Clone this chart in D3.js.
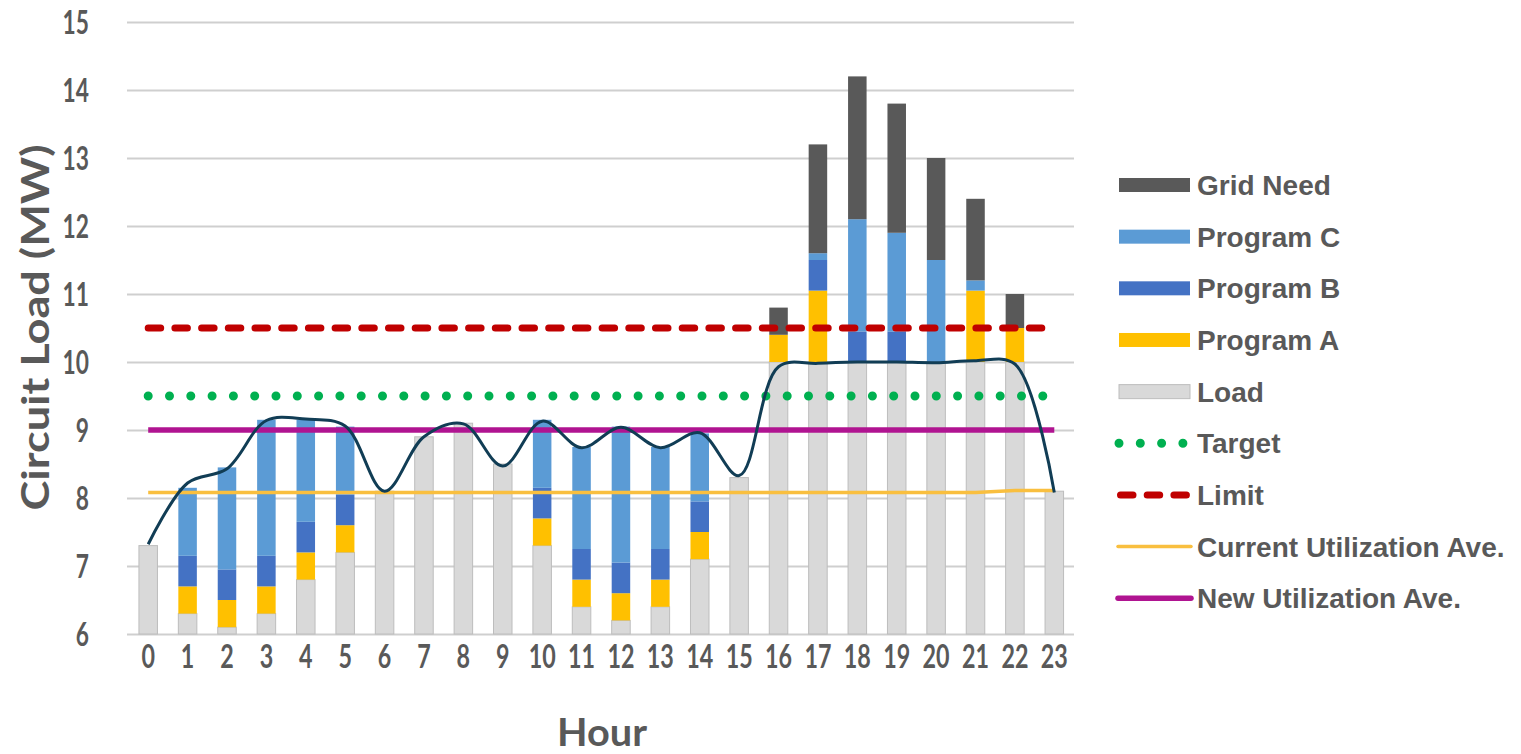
<!DOCTYPE html>
<html>
<head>
<meta charset="utf-8">
<script src="https://cdn.jsdelivr.net/npm/d3@7"></script>
<style>
  body { margin: 0; background: #ffffff; }
  .tick text { fill: #595959; font-family: Lato, "Liberation Sans", sans-serif; font-weight: 700; }
  .legend text { fill: #595959; font-family: "Liberation Sans", Arial, sans-serif; font-weight: 700; font-size: 28px; }
  .axis_title { fill: #595959; font-family: Lato, "Liberation Sans", sans-serif; font-weight: 700; font-size: 38px; }
</style>
</head>
<body>
<div id="chart"></div>
<script>
// hours on the x axis and y tick values
var hours = [0, 1, 2, 3, 4, 5, 6, 7, 8, 9, 10, 11, 12, 13, 14, 15, 16, 17, 18, 19, 20, 21, 22, 23];
var yTicks = [6, 7, 8, 9, 10, 11, 12, 13, 14, 15];

// stacked bar segments (MW)
var load      = [7.3, 6.3, 6.1, 6.3, 6.8, 7.2, 8.1, 8.9, 9.1, 8.5, 7.3, 6.4, 6.2, 6.4, 7.1, 8.3, 10, 10, 10, 10, 10, 10, 10, 8.1];
var programA  = [0, 0.4, 0.4, 0.4, 0.4, 0.4, 0, 0, 0, 0, 0.4, 0.4, 0.4, 0.4, 0.4, 0, 0.4, 1.05, 0, 0, 0, 1.05, 0.5, 0];
var programB  = [0, 0.45, 0.45, 0.45, 0.45, 0.45, 0, 0, 0, 0, 0.45, 0.45, 0.45, 0.45, 0.45, 0, 0, 0.45, 0.45, 0.45, 0, 0, 0, 0];
var programC  = [0, 1.0, 1.5, 2.0, 1.5, 1.0, 0, 0, 0, 0, 1.0, 1.5, 2.0, 1.5, 1.0, 0, 0, 0.1, 1.65, 1.45, 1.5, 0.15, 0, 0];
var gridNeed  = [0, 0, 0, 0, 0, 0, 0, 0, 0, 0, 0, 0, 0, 0, 0, 0, 0.4, 1.6, 2.1, 1.9, 1.5, 1.2, 0.5, 0];

// smoothed resulting load curve
var newLoad = [7.32, 8.22, 8.43, 9.14, 9.16, 9.06, 8.1, 8.9, 9.09, 8.47, 9.13, 8.74, 9.04, 8.74, 8.96, 8.33, 9.93, 9.98, 10.0, 10.0, 9.99, 10.02, 9.97, 8.08];

// reference levels
var currentAve = [8.08, 8.08, 8.08, 8.08, 8.08, 8.08, 8.08, 8.08, 8.08, 8.08, 8.08, 8.08, 8.08, 8.08, 8.08, 8.08, 8.08, 8.08, 8.08, 8.08, 8.08, 8.08, 8.11, 8.11];
var targetLevel = 9.5;
var limitLevel = 10.5;
var newAveLevel = 9.0;

var stackKeys = ["Load", "Program A", "Program B", "Program C", "Grid Need"];
var stackColors = {"Load": "#d9d9d9", "Program A": "#ffc000", "Program B": "#4472c4", "Program C": "#5b9bd5", "Grid Need": "#595959"};

var width = 1521;
var height = 754;

var svgContainer = d3.select("#chart")
                     .append("svg")
                     .attr("width", width)
                     .attr("height", height)
                     .style("display", "block");

var xScale = d3.scaleBand()
               .domain(hours)
               .range([128.5, 1074])
               .paddingInner(0.53)
               .paddingOuter(0.265);

var yScale = d3.scaleLinear()
               .domain([6, 15])
               .range([634, 22])
               .clamp(true);

function xc(h) { return xScale(h) + xScale.bandwidth() / 2; }

// squeeze tick labels to the narrow look of the original
function squeeze(sel, perChar) {
  sel.selectAll(".tick text").each(function(d) {
    d3.select(this)
      .attr("textLength", String(d).length * perChar)
      .attr("lengthAdjust", "spacingAndGlyphs");
  });
}

// gridlines
var grid = svgContainer.append("g")
                       .attr("transform", "translate(127,0)")
                       .call(d3.axisLeft(yScale).tickValues(yTicks).tickSize(-947).tickFormat(""));
grid.select(".domain").remove();
grid.selectAll("line").attr("stroke", "#cfcfcf").attr("stroke-width", 2);

// y axis labels
var yAxis = svgContainer.append("g")
                        .attr("transform", "translate(128.5,0)")
                        .call(d3.axisLeft(yScale).tickValues(yTicks).tickSize(0).tickPadding(39.5));
yAxis.select(".domain").remove();
yAxis.selectAll("text").style("font-size", "32px").attr("dy", "0.36em");
squeeze(yAxis, 13.2);

// x axis labels
var xAxis = svgContainer.append("g")
                        .attr("transform", "translate(0,634)")
                        .call(d3.axisBottom(xScale).tickSize(0).tickPadding(11));
xAxis.select(".domain").remove();
xAxis.selectAll("text").style("font-size", "32px");
squeeze(xAxis, 13.5);

// stacked bars
var rows = hours.map(function(h, i) {
  return {hour: h, "Load": load[i], "Program A": programA[i], "Program B": programB[i],
          "Program C": programC[i], "Grid Need": gridNeed[i]};
});
var stacked = d3.stack().keys(stackKeys)(rows);

var barGroups = svgContainer.append("g")
                            .selectAll("g")
                            .data(stacked)
                            .enter()
                            .append("g")
                            .attr("fill", function(d) { return stackColors[d.key]; });

barGroups.selectAll("rect")
         .data(function(d) { return d.map(function(p) { p.key = d.key; return p; }); })
         .enter()
         .filter(function(d) { return d[1] - d[0] > 0; })
         .append("rect")
         .attr("x", function(d) { return xScale(d.data.hour); })
         .attr("width", xScale.bandwidth())
         .attr("y", function(d) { return yScale(d[1]); })
         .attr("height", function(d) { return yScale(d[0]) - yScale(d[1]); })
         .attr("stroke", function(d) { return d.key === "Load" ? "#bdbdbd" : "none"; })
         .attr("stroke-width", 1);

// level lines
function levelLine(level) {
  return d3.line().x(function(h) { return xc(h); }).y(function() { return yScale(level); })(hours);
}

svgContainer.append("path")
            .attr("d", levelLine(targetLevel))
            .attr("fill", "none")
            .attr("stroke", "#00b050")
            .attr("stroke-width", 9)
            .attr("stroke-linecap", "round")
            .attr("stroke-dasharray", "0 21.3");

svgContainer.append("path")
            .attr("d", levelLine(limitLevel))
            .attr("fill", "none")
            .attr("stroke", "#c00000")
            .attr("stroke-width", 7)
            .attr("stroke-linecap", "round")
            .attr("stroke-dasharray", "12.5 14.2");

svgContainer.append("path")
            .attr("d", d3.line().x(function(d, i) { return xc(hours[i]); }).y(function(d) { return yScale(d); })(currentAve))
            .attr("fill", "none")
            .attr("stroke", "#f9bf3f")
            .attr("stroke-width", 3.5);

svgContainer.append("path")
            .attr("d", levelLine(newAveLevel))
            .attr("fill", "none")
            .attr("stroke", "#b01491")
            .attr("stroke-width", 5.5);

// smoothed new load curve
svgContainer.append("path")
            .attr("d", d3.line()
                         .x(function(d, i) { return xc(hours[i]); })
                         .y(function(d) { return yScale(d); })
                         .curve(d3.curveCatmullRom.alpha(0.5))(newLoad))
            .attr("fill", "none")
            .attr("stroke", "#113d55")
            .attr("stroke-width", 3);

// axis titles
svgContainer.append("text")
            .attr("class", "axis_title")
            .attr("text-anchor", "middle")
            .attr("transform", "translate(49,327.5) rotate(-90)")
            .attr("textLength", 366)
            .attr("lengthAdjust", "spacingAndGlyphs")
            .text("Circuit Load (MW)");

svgContainer.append("text")
            .attr("class", "axis_title")
            .attr("text-anchor", "middle")
            .attr("x", 602)
            .attr("y", 746)
            .attr("textLength", 90)
            .attr("lengthAdjust", "spacingAndGlyphs")
            .text("Hour");

// legend
var legendItems = [
  {name: "Grid Need", type: "bar", color: stackColors["Grid Need"]},
  {name: "Program C", type: "bar", color: stackColors["Program C"]},
  {name: "Program B", type: "bar", color: stackColors["Program B"]},
  {name: "Program A", type: "bar", color: stackColors["Program A"]},
  {name: "Load", type: "bar", color: stackColors["Load"]},
  {name: "Target", type: "dots", color: "#00b050"},
  {name: "Limit", type: "dash", color: "#c00000"},
  {name: "Current Utilization Ave.", type: "thin", color: "#f9bf3f"},
  {name: "New Utilization Ave.", type: "thick", color: "#b01491"}
];

var legend = svgContainer.append("g").attr("class", "legend");
var legendRow = legend.selectAll("g")
                      .data(legendItems)
                      .enter()
                      .append("g")
                      .attr("transform", function(d, i) { return "translate(0," + (185 + i * 51.66) + ")"; });

legendRow.each(function(d) {
  var g = d3.select(this);
  if (d.type === "bar") {
    g.append("rect")
     .attr("x", 1119).attr("y", -7).attr("width", 71).attr("height", 14)
     .attr("fill", d.color)
     .attr("stroke", d.name === "Load" ? "#bdbdbd" : "none");
  } else if (d.type === "dots") {
    g.append("path").attr("d", "M1119,0H1184")
     .attr("stroke", d.color).attr("stroke-width", 9)
     .attr("stroke-linecap", "round").attr("stroke-dasharray", "0 21.3");
  } else if (d.type === "dash") {
    g.append("path").attr("d", "M1120.5,0H1189")
     .attr("stroke", d.color).attr("stroke-width", 7)
     .attr("stroke-linecap", "round").attr("stroke-dasharray", "12.5 14.2");
  } else {
    g.append("path").attr("d", "M1118,0H1191")
     .attr("stroke", d.color).attr("stroke-width", d.type === "thin" ? 3.5 : 5.5)
     .attr("stroke-linecap", "round");
  }
  g.append("text").attr("x", 1197).attr("y", 10).text(d.name);
});
</script>
</body>
</html>
